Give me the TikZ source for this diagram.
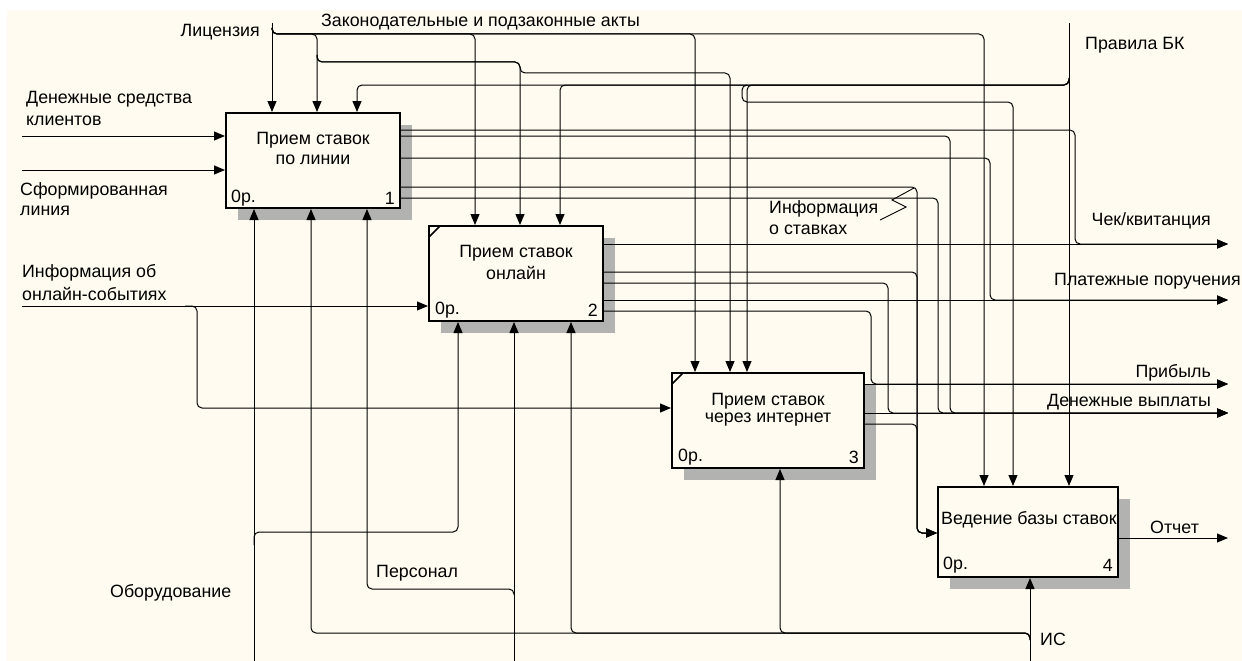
\documentclass[tikz,border=0pt]{standalone}
\usepackage{fontspec}
\setmainfont{Liberation Sans}
\usetikzlibrary{arrows.meta}
\definecolor{cream}{RGB}{255,251,240}
\definecolor{shadowc}{RGB}{178,178,176}
\newcommand\dfont{\fontsize{17.8}{20}\selectfont}
\begin{document}
\begin{tikzpicture}[x=1pt,y=-1pt,
  conn/.style={draw=black, line width=1pt, rounded corners=5pt},
  arr/.style={conn, -{Triangle[length=11pt,width=9pt]}},
  box/.style={draw=black, line width=2pt, fill=cream, inner sep=0pt},
  lbl/.style={font=\dfont, inner sep=0pt, anchor=west},
  shad/.style={fill=shadowc}]
\useasboundingbox (0,0) rectangle (1242,661);
\fill[white] (0,0) rectangle (1242,661);
\fill[cream] (7,10) rectangle (1242,661);
% shadows
\fill[shad] (238,125) rectangle (412,220);
\fill[shad] (441,238) rectangle (615,333);
\fill[shad] (684,385) rectangle (876,480);
\fill[shad] (950,499) rectangle (1130,589);
% boxes
\node[box, minimum width=174pt, minimum height=95pt] (b1) at (313,160.5) {};
\node[box, minimum width=174pt, minimum height=95pt] (b2) at (516,273.5) {};
\node[box, minimum width=192pt, minimum height=95pt] (b3) at (768,420.5) {};
\node[box, minimum width=180pt, minimum height=90pt] (b4) at (1028,532) {};
\draw[line width=1.5pt] ([shift={(1,12)}]b2.north west) -- ([shift={(12,1)}]b2.north west);
\draw[line width=1.5pt] ([shift={(1,12)}]b3.north west) -- ([shift={(12,1)}]b3.north west);
% box texts
\node[lbl, anchor=center] (t1a) at (313,140) {Прием ставок};
\node[lbl, anchor=center] (t1b) at (313,160) {по линии};
\node[lbl, anchor=center] (t2a) at (516,253) {Прием ставок};
\node[lbl, anchor=center] (t2b) at (516,273) {онлайн};
\node[lbl, anchor=center] (t3a) at (768,401) {Прием ставок};
\node[lbl, anchor=center] (t3b) at (768,420) {через интернет};
\node[lbl] (t4a) at (941,520) {Ведение базы ставок};
\node[lbl] (n1a) at (231,198) {0р.};
\node[lbl, anchor=east] (n1b) at (395,198) {1};
\node[lbl] (n2a) at (435,310) {0р.};
\node[lbl, anchor=east] (n2b) at (598,310) {2};
\node[lbl] (n3a) at (678,457) {0р.};
\node[lbl, anchor=east] (n3b) at (859,457) {3};
\node[lbl] (n4a) at (943,565) {0р.};
\node[lbl, anchor=east] (n4b) at (1113,565) {4};
% free ends
\coordinate (inDen) at (22,136);
\coordinate (inSf) at (22,170);
\coordinate (inInf) at (22,306);
\coordinate (cLic) at (272,23);
\coordinate (cPr) at (1069,23);
\coordinate (oChek) at (1228,244);
\coordinate (oPlat) at (1228,300);
\coordinate (oPrib) at (1228,384);
\coordinate (oDen) at (1228,413);
\coordinate (oOtch) at (1228,538);
\coordinate (mOb) at (254,661);
\coordinate (mPers) at (514,661);
\coordinate (mIS) at (1030,661);
% controls
\draw[arr] (cLic) -- (cLic |- b1.north);
\draw[arr] (272,28) |- (317,34) -- (317,0 |- b1.north);
\draw[arr] (272,28) |- (475,34) -- (475,0 |- b2.north);
\draw[arr] (272,28) |- (695,34) -- (695,0 |- b3.north);
\draw[arr] (272,28) |- (984,34) -- (984,0 |- b4.north);
\draw[arr] (317,55) |- (520,62) -- (520,0 |- b2.north);
\draw[arr] (317,55) |- (520,62) |- (730,73) -- (730,0 |- b3.north);
\draw[arr] (cPr) -- (cPr |- b4.north);
\draw[arr] (1069,78) |- (357,85) -- (357,0 |- b1.north);
\draw[arr] (1069,78) |- (560,85) -- (560,0 |- b2.north);
\draw[arr] (1069,78) |- (747,85) -- (747,0 |- b3.north);
\draw[arr] (747,85) -| (742,102) -| (1013,0 |- b4.north);
% inputs
\draw[arr] (inDen) -- (b1.west |- inDen);
\draw[arr] (inSf) -- (b1.west |- inSf);
\draw[arr] (inInf) -- (b2.west |- inInf);
\draw[arr] (185,306) -| (197,408) -- (b3.west |- 0,408);
% outputs box 1
\draw[arr] (b1.east |- 0,130) -| (1075,244) -- (oChek);
\draw[arr] (b1.east |- 0,136) -| (950,413) -- (oDen);
\draw[arr] (b1.east |- 0,158) -| (990,300) -- (oPlat);
\draw[arr] (b1.east |- 0,187) -| (917,533) -- (b4.west |- 0,533);
\draw[arr] (b1.east |- 0,198) -| (938,413) -- (oDen);
% outputs box 2
\draw[arr] (b2.east |- 0,244) -- (oChek);
\draw[arr] (b2.east |- 0,272) -| (917,533) -- (b4.west |- 0,533);
\draw[arr] (b2.east |- 0,283) -| (888,413) -- (oDen);
\draw[arr] (b2.east |- 0,300) -- (oPlat);
\draw[arr] (b2.east |- 0,311) -| (871,384) -- (oPrib);
% outputs box 3
\draw[arr] (b3.east |- 0,384) -- (oPrib);
\draw[arr] (b3.east |- 0,413) -- (oDen);
\draw[arr] (b3.east |- 0,424) -| (917,533) -- (b4.west |- 0,533);
% output box 4
\draw[arr] (b4.east |- 0,538) -- (oOtch);
% mechanisms
\draw[arr] (mOb) -- (mOb |- b1.south);
\draw[arr] (254,545) |- (458,532) -- (458,0 |- b2.south);
\draw[arr] (mPers) -- (mPers |- b2.south);
\draw[arr] (514,595) |- (367,589) -- (367,0 |- b1.south);
\draw[arr] (mIS) -- (mIS |- b4.south);
\draw[arr] (1030,640) |- (311,633) -- (311,0 |- b1.south);
\draw[arr] (1030,640) |- (571,633) -- (571,0 |- b2.south);
\draw[arr] (1030,640) |- (780,633) -- (780,0 |- b3.south);
% squiggle
\draw[line width=0.9pt] (880,220) -- (906,207) -- (892,200) -- (914,188);
% labels
\node[lbl] (lDen1) at (26,99) {Денежные средства};
\node[lbl] (lDen2) at (26,121) {клиентов};
\node[lbl] (lSf1) at (20,191) {Сформированная};
\node[lbl] (lSf2) at (20,211) {линия};
\node[lbl] (lInf1) at (22,273) {Информация об};
\node[lbl] (lInf2) at (22,294) {онлайн-событиях};
\node[lbl, anchor=east] (lLic) at (260,32) {Лицензия};
\node[lbl] (lZak) at (321,22) {Законодательные и подзаконные акты};
\node[lbl] (lPr) at (1085,45) {Правила БК};
\node[lbl] (lIs1) at (769,209) {Информация};
\node[lbl] (lIs2) at (769,230) {о ставках};
\node[lbl, anchor=east] (lChek) at (1211,221) {Чек/квитанция};
\node[lbl] (lPlat) at (1054,281) {Платежные поручения};
\node[lbl, anchor=east] (lPrib) at (1211,373) {Прибыль};
\node[lbl, anchor=east] (lDenV) at (1211,402) {Денежные выплаты};
\node[lbl] (lOtch) at (1150,527) {Отчет};
\node[lbl] (lIS) at (1040,639) {ИС};
\node[lbl] (lPers) at (376,573) {Персонал};
\node[lbl] (lOb) at (110,593) {Оборудование};
\end{tikzpicture}
\end{document}
